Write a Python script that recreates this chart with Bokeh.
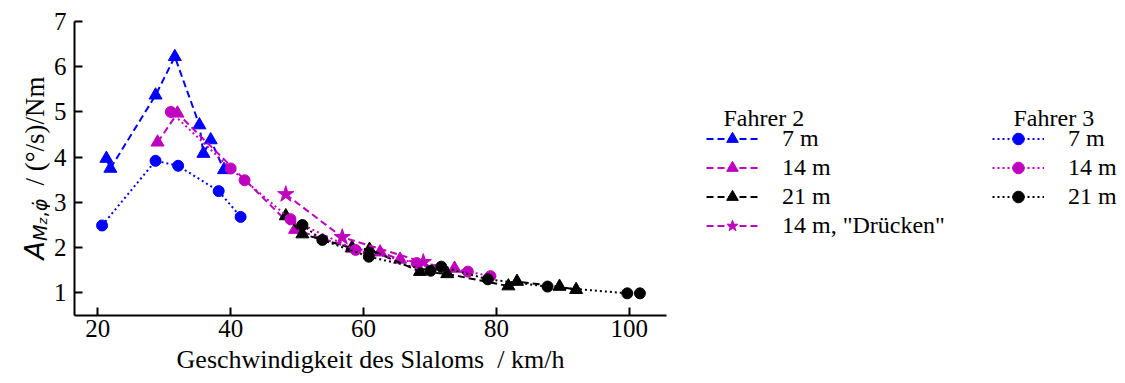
import math
from bokeh.plotting import figure
from bokeh.layouts import row
from bokeh.models import Legend, LegendItem, Label, Range1d
from bokeh.embed import file_html
from bokeh.resources import INLINE

# Fahrer 2 (dashed lines, triangles)
f2_7m_speed = [21.3, 21.9, 28.7, 31.6, 35.3, 35.9, 37.0, 39.0]
f2_7m_amp = [3.97, 3.75, 5.37, 6.22, 4.71, 4.08, 4.38, 3.72]

f2_14m_speed = [29.0, 32.0, 49.7, 58.2, 62.5, 65.5, 73.7]
f2_14m_amp = [4.33, 4.97, 2.40, 1.99, 1.90, 1.74, 1.54]

f2_21m_speed = [48.3, 50.8, 58.3, 60.9, 68.5, 72.6, 81.8, 83.1, 89.5, 92.0]
f2_21m_amp = [2.70, 2.30, 1.99, 1.96, 1.47, 1.42, 1.15, 1.25, 1.14, 1.07]

f2_14m_push_speed = [48.3, 56.8, 69.0]
f2_14m_push_amp = [3.18, 2.23, 1.68]

# Fahrer 3 (dotted lines, circles)
f3_7m_speed = [20.65, 28.7, 32.1, 38.2, 41.5]
f3_7m_amp = [2.49, 3.92, 3.81, 3.25, 2.68]

f3_14m_speed = [31.0, 40.0, 42.1, 49.0, 58.8, 68.0, 75.7, 79.1]
f3_14m_amp = [5.00, 3.75, 3.49, 2.63, 1.95, 1.66, 1.47, 1.37]

f3_21m_speed = [50.8, 53.8, 60.8, 70.1, 71.7, 78.7, 87.7, 99.7, 101.6]
f3_21m_amp = [2.50, 2.17, 1.80, 1.49, 1.58, 1.30, 1.14, 0.99, 0.99]

x_ticks = [20, 40, 60, 80, 100]
y_ticks = [1, 2, 3, 4, 5, 6, 7]

BLUE = "#0000ff"
MAGENTA = "#bf00bf"
BLACK = "#000000"
SERIF = "Liberation Serif"
MATH = "DejaVu Sans"
H = 383
DASH = "7 4"
DOT = "2 3"


def blank_panel(width):
    # side panel without axes; in the row its frame lines up with the main frame
    f = figure(width=width, height=H, x_range=Range1d(0, 1), y_range=Range1d(0, 1),
               output_backend="svg", toolbar_location=None,
               x_axis_location=None, y_axis_location=None,
               min_border=0, min_border_left=0, min_border_right=0,
               min_border_top=0, min_border_bottom=0)
    f.outline_line_color = None
    f.xgrid.grid_line_color = None
    f.ygrid.grid_line_color = None
    return f


# ---- main plot ----
p = figure(width=646, height=H,
           x_range=Range1d(16.5, 105.6), y_range=Range1d(0.5, 7.0),
           output_backend="svg", toolbar_location=None,
           min_border_left=21, min_border_right=30,
           min_border_top=21, min_border_bottom=68)
p.outline_line_color = None
p.xgrid.grid_line_color = None
p.ygrid.grid_line_color = None

for ax in (p.xaxis[0], p.yaxis[0]):
    ax.axis_line_width = 2
    ax.axis_line_color = BLACK
    ax.major_tick_in = 8
    ax.major_tick_out = 0
    ax.major_tick_line_width = 2
    ax.major_tick_line_color = BLACK
    ax.minor_tick_in = 0
    ax.minor_tick_out = 0
    ax.major_label_text_font = SERIF
    ax.major_label_text_font_size = "25px"
    ax.major_label_text_color = BLACK

p.xaxis.ticker = x_ticks
p.yaxis.ticker = y_ticks
p.xaxis.major_label_standoff = 4
p.yaxis.major_label_standoff = 8
p.xaxis.axis_label = "Geschwindigkeit des Slaloms\u00a0\u00a0/ km/h"
p.xaxis.axis_label_text_font = SERIF
p.xaxis.axis_label_text_font_size = "26px"
p.xaxis.axis_label_text_font_style = "normal"
p.xaxis.axis_label_text_color = BLACK
p.xaxis.axis_label_standoff = 5


def series(fig, xs, ys, color, dash, marker, size):
    ln = fig.line(xs, ys, line_color=color, line_width=2, line_dash=dash)
    sc = fig.scatter(xs, ys, marker=marker, size=size,
                     fill_color=color, line_color=color)
    return [ln, sc]


STYLES = {
    "f2_7": (BLUE, DASH, "triangle", 13),
    "f2_14": (MAGENTA, DASH, "triangle", 13),
    "f2_21": (BLACK, DASH, "triangle", 13),
    "f2_push": (MAGENTA, DASH, "star", 17),
    "f3_7": (BLUE, DOT, "circle", 11),
    "f3_14": (MAGENTA, DOT, "circle", 11),
    "f3_21": (BLACK, DOT, "circle", 11),
}
DATA = {
    "f2_7": (f2_7m_speed, f2_7m_amp),
    "f2_14": (f2_14m_speed, f2_14m_amp),
    "f2_21": (f2_21m_speed, f2_21m_amp),
    "f2_push": (f2_14m_push_speed, f2_14m_push_amp),
    "f3_7": (f3_7m_speed, f3_7m_amp),
    "f3_14": (f3_14m_speed, f3_14m_amp),
    "f3_21": (f3_21m_speed, f3_21m_amp),
}
for key in STYLES:
    xs, ys = DATA[key]
    series(p, xs, ys, *STYLES[key])

# ---- y axis label panel (screen y measured up from the frame bottom) ----
ylab = blank_panel(50)
ylabel_parts = [
    # text, position along the axis, baseline offset, size, font, style
    ("A", 56.0, 34, "27px", MATH, "italic"),
    ("M", 74.5, 39, "19px", MATH, "italic"),
    ("z", 90.9, 41.5, "13px", MATH, "italic"),
    (",", 97.9, 39, "19px", MATH, "normal"),
    ("\u03c6\u0307", 103.9, 39, "19px", MATH, "italic"),
    ("/ (°/s)/Nm", 130.0, 34, "27px", SERIF, "normal"),
]
for txt, fy, fx, fs, font, style in ylabel_parts:
    ylab.add_layout(Label(x=fx, y=fy, x_units="screen", y_units="screen",
                          text=txt, angle=math.pi / 2, angle_units="rad",
                          text_font=font, text_font_size=fs,
                          text_font_style=style, text_color=BLACK,
                          text_align="left", text_baseline="alphabetic"))

# ---- legend panel: same series, kept outside this panel's visible range ----
leg = blank_panel(429)
handles = {}
for key, (color, dash, marker, size) in STYLES.items():
    xs, ys = DATA[key]
    handles[key] = series(leg, xs, ys, color, dash, marker, size)


def make_legend(items, loc):
    lg = Legend(items=items, location=loc, orientation="vertical",
                border_line_color=None, background_fill_alpha=0,
                padding=0, margin=0, spacing=0,
                glyph_width=52, glyph_height=29, label_height=29,
                label_standoff=24,
                label_text_font=SERIF, label_text_font_size="24px",
                label_text_color=BLACK)
    leg.add_layout(lg, "center")


make_legend([
    LegendItem(label="7 m", renderers=handles["f2_7"]),
    LegendItem(label="14 m", renderers=handles["f2_14"]),
    LegendItem(label="21 m", renderers=handles["f2_21"]),
    LegendItem(label='14 m, "Drücken"', renderers=handles["f2_push"]),
], (10, 75))

make_legend([
    LegendItem(label="7 m", renderers=handles["f3_7"]),
    LegendItem(label="14 m", renderers=handles["f3_14"]),
    LegendItem(label="21 m", renderers=handles["f3_21"]),
], (296, 104))

for txt, xs in (("Fahrer 2", 27), ("Fahrer 3", 317)):
    leg.add_layout(Label(x=xs, y=198, x_units="screen", y_units="screen",
                         text=txt, text_font=SERIF, text_font_size="24px",
                         text_color=BLACK, text_align="left",
                         text_baseline="alphabetic"))

layout = row(ylab, p, leg, spacing=0)
open("out.html", "w").write(file_html(layout, INLINE))
